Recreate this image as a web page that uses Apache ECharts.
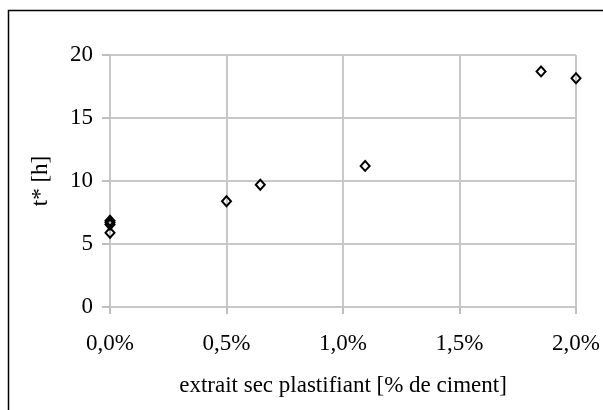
<!DOCTYPE html>
<html>
<head>
<meta charset="utf-8">
<script src="https://cdn.jsdelivr.net/npm/echarts@6/dist/echarts.min.js"></script>
<style>html,body{margin:0;padding:0;background:#fff}#c{width:603px;height:410px}</style>
</head>
<body>
<div id="c"></div>
<script>
const xValues = [0, 0, 0, 0, 0.5, 0.645, 1.095, 1.85, 2.0];
const yValues = [5.9, 6.55, 6.7, 6.85, 8.4, 9.7, 11.2, 18.7, 18.15];
const xTitle = 'extrait sec plastifiant [% de ciment]';
const yTitle = 't* [h]';

const chart = echarts.init(document.getElementById('c'), null, {renderer: 'canvas'});
const font = '"Liberation Serif", "Times New Roman", serif';
chart.setOption({
  animation: false,
  textStyle: {fontFamily: font},
  graphic: [{
    type: 'rect', shape: {x: 8.5, y: 10.5, width: 700, height: 500},
    style: {fill: 'none', stroke: '#000', lineWidth: 1.5}, silent: true
  }],
  grid: {left: 110, right: 27, top: 55, bottom: 103, containLabel: false},
  xAxis: {
    type: 'value', min: 0, max: 2.0, interval: 0.5,
    name: xTitle, nameLocation: 'middle', nameGap: 67,
    nameTextStyle: {fontFamily: font, fontSize: 23, color: '#000'},
    axisLine: {show: false},
    axisTick: {show: true, length: 7, lineStyle: {color: '#bfbfbf', width: 2}},
    splitLine: {show: true, lineStyle: {color: '#c8c8c8', width: 2}},
    axisLabel: {fontFamily: font, fontSize: 23, color: '#000', margin: 25,
      formatter: v => v.toFixed(1).replace('.', ',') + '%'}
  },
  yAxis: {
    type: 'value', min: 0, max: 20, interval: 5,
    name: yTitle, nameLocation: 'middle', nameGap: 58, nameRotate: 90,
    nameTextStyle: {fontFamily: font, fontSize: 23, color: '#000'},
    axisLine: {show: false},
    axisTick: {show: true, length: 8, lineStyle: {color: '#bfbfbf', width: 2}},
    splitLine: {show: true, lineStyle: {color: '#c8c8c8', width: 2}},
    axisLabel: {fontFamily: font, fontSize: 23, color: '#000', margin: 17}
  },
  series: [{
    type: 'scatter',
    data: xValues.map((x, i) => [x, yValues[i]]),
    symbol: 'diamond', symbolSize: [9, 10],
    itemStyle: {color: 'rgba(255,255,255,0)', borderColor: '#000', borderWidth: 2, opacity: 1}
  }]
});
</script>
</body>
</html>
